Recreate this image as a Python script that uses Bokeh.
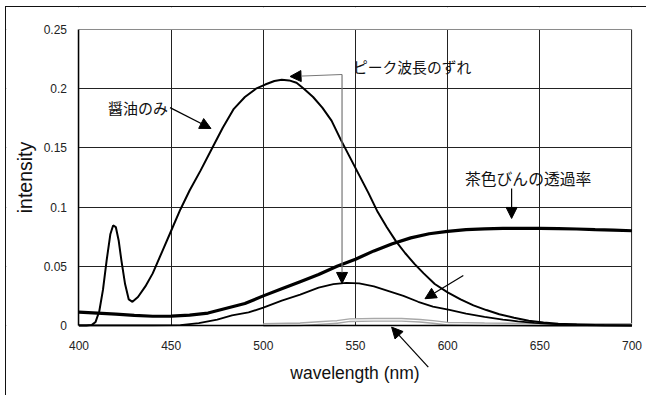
from bokeh.plotting import figure
from bokeh.models import Range1d, FixedTicker, NumeralTickFormatter, Arrow, NormalHead, Label, BoxAnnotation
from bokeh.embed import file_html
from bokeh.resources import INLINE

# ---- data ----
wl_soy = [400, 404, 407, 409, 411, 413, 415, 417, 418.5, 420, 421.5, 423, 425, 427, 429, 432, 436, 440,
          445, 450, 455, 460, 466, 472, 478, 484, 490, 496, 501, 506, 510, 514, 518, 522, 527, 532, 537,
          542, 547, 552, 557, 562, 567, 572, 577, 582, 587, 593, 600, 607, 614, 621, 628, 636, 644, 652,
          660, 670, 680, 690, 700]
soy = [0, 0, 0.0005, 0.003, 0.012, 0.03, 0.055, 0.077, 0.0845, 0.083, 0.072, 0.055, 0.035, 0.022, 0.02,
       0.024, 0.033, 0.044, 0.062, 0.08, 0.098, 0.114, 0.131, 0.149, 0.167, 0.183, 0.193, 0.2, 0.2035,
       0.2065, 0.2075, 0.207, 0.205, 0.2, 0.193, 0.184, 0.173, 0.157, 0.142, 0.127, 0.112, 0.096, 0.083,
       0.071, 0.061, 0.052, 0.044, 0.035, 0.028, 0.022, 0.017, 0.013, 0.0095, 0.0065, 0.004, 0.0025,
       0.0015, 0.0008, 0.0004, 0.0002, 0.0]

wl_bottle = [400, 410, 420, 430, 440, 450, 460, 470, 480, 490, 500, 510, 520, 530, 540, 550, 560, 570,
             580, 590, 600, 610, 620, 630, 640, 650, 660, 670, 680, 690, 700]
bottle = [0.0112, 0.0104, 0.0095, 0.0085, 0.0078, 0.0079, 0.0088, 0.0105, 0.0145, 0.0185, 0.025, 0.031,
          0.037, 0.043, 0.05, 0.056, 0.063, 0.069, 0.074, 0.0775, 0.0795, 0.081, 0.0816, 0.082, 0.082,
          0.082, 0.0818, 0.0815, 0.081, 0.0806, 0.080]

wl_through = [400, 440, 455, 465, 475, 483, 492, 500, 510, 520, 530, 538, 545, 552, 560, 568, 576, 584,
              592, 601, 610, 620, 630, 638, 647, 656, 665, 675, 685, 700]
through = [0, 0, 0.0003, 0.002, 0.005, 0.0085, 0.011, 0.015, 0.021, 0.026, 0.032, 0.035, 0.036, 0.0355,
           0.033, 0.029, 0.025, 0.02, 0.016, 0.0132, 0.01, 0.0073, 0.005, 0.0035, 0.0022, 0.0013, 0.0008,
           0.0004, 0.0002, 0.0]

wl_faint = [500, 520, 530, 540, 547, 560, 575, 585, 592, 600, 620, 650, 700]
faint = [0.0005, 0.001, 0.002, 0.003, 0.0045, 0.0048, 0.0048, 0.004, 0.003, 0.0015, 0.001, 0.0005, 0.0003]

x_ticks = [400, 450, 500, 550, 600, 650, 700]
y_ticks = [0, 0.05, 0.1, 0.15, 0.2, 0.25]

JP = "Noto Sans CJK JP"
LAT = "Liberation Sans"

# The frame fills the whole canvas so that the pointer arrow under the axis is not
# clipped; both axes are pinned to the data box (400-700, 0-0.25) and the frame area
# outside that box is blanked.
p = figure(width=641, height=389, output_backend="svg", toolbar_location=None,
           x_range=Range1d(360.67, 708.42), y_range=Range1d(-0.06, 0.26858),
           min_border_left=0, min_border_top=0, min_border_right=0, min_border_bottom=0)
p.styles = {"margin-left": "5px", "margin-top": "6px",
            "border-left": "1.5px solid #111", "border-top": "1.5px solid #111"}

p.outline_line_color = None
p.background_fill_color = "white"
p.border_fill_color = "white"

for ax in (p.xaxis, p.yaxis):
    ax.major_tick_line_color = None
    ax.minor_tick_line_color = None
    ax.axis_line_color = "black"
    ax.axis_line_width = 1.5
    ax.major_label_text_font = LAT
    ax.major_label_text_font_size = "12px"
    ax.major_label_text_color = "#222"
    ax.axis_label_text_font = LAT
    ax.axis_label_text_font_style = "normal"
    ax.axis_label_text_color = "#111"

p.xaxis.fixed_location = 0
p.yaxis.fixed_location = 400
p.xaxis.bounds = (400, 700)
p.yaxis.bounds = (0, 0.25)
p.xaxis.axis_label_text_font_size = "17.5px"
p.yaxis.axis_label_text_font_size = "19.5px"
p.xaxis.ticker = FixedTicker(ticks=x_ticks)
p.yaxis.ticker = FixedTicker(ticks=y_ticks)
p.yaxis.formatter = NumeralTickFormatter(format="0.[00]")
p.xaxis.major_label_standoff = 10
p.yaxis.major_label_standoff = 6
p.xaxis.axis_label = "wavelength (nm)"
p.yaxis.axis_label = "intensity"
p.xaxis.axis_label_standoff = 9
p.yaxis.axis_label_standoff = 4

p.grid.grid_line_color = "#222"
p.grid.grid_line_width = 1
p.xgrid.ticker = FixedTicker(ticks=x_ticks)
p.ygrid.ticker = FixedTicker(ticks=y_ticks)

# blank the frame outside the data box, then draw the data-box outline
for kw in ({"top": 0}, {"bottom": 0.25}, {"right": 400}, {"left": 700}):
    p.add_layout(BoxAnnotation(fill_color="white", fill_alpha=1, line_color=None,
                               level="underlay", **kw))
p.add_layout(BoxAnnotation(bottom=0, top=0.25, left=400, right=700, fill_alpha=0,
                           line_color="#808080", line_width=1, level="underlay"))

# curves
p.line(wl_faint, faint, line_color="#a8a8a8", line_width=4)
p.line(wl_faint, faint, line_color="white", line_width=1.2)
p.line(wl_through, through, line_color="black", line_width=1.8)
p.line(wl_soy, soy, line_color="black", line_width=2)
p.line(wl_bottle, bottle, line_color="black", line_width=3.2)

def arr(x0, y0, x1, y1, color="black"):
    p.add_layout(Arrow(end=NormalHead(size=11, fill_color="black", line_color="black"),
                       x_start=x0, y_start=y0, x_end=x1, y_end=y1,
                       line_color=color, line_width=1.2))

# 醤油のみ
p.add_layout(Label(x=415.7, y=0.184, text="醤油のみ", text_font=JP, text_font_size="15px",
                   text_baseline="middle", text_color="#111"))
arr(449.4, 0.184, 471.6, 0.1664)

# ピーク波長のずれ
p.add_layout(Label(x=548.6, y=0.2188, text="ピーク波長のずれ", text_font=JP, text_font_size="14.8px",
                   text_baseline="middle", text_color="#111"))
arr(542.7, 0.212, 514.5, 0.2103, color="#777")
arr(542.7, 0.212, 542.7, 0.0355, color="#777")

# 茶色びんの透過率
p.add_layout(Label(x=609.4, y=0.124, text="茶色びんの透過率", text_font=JP, text_font_size="15.8px",
                   text_baseline="middle", text_color="#111"))
arr(634.7, 0.1157, 634.7, 0.0904)

# pointer to lower curve
arr(608.5, 0.0422, 587.7, 0.0226)

# pointer to faint curve (from below the axis)
arr(589.5, -0.0352, 569.6, -0.0014)

open("out.html", "w").write(file_html(p, INLINE))
